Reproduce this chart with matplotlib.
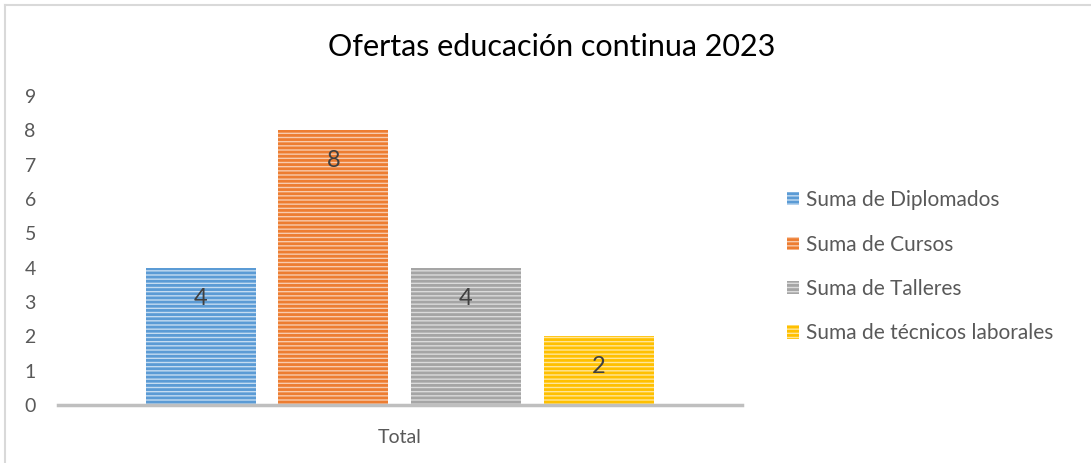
import matplotlib.pyplot as plt
from matplotlib.lines import Line2D

# Data
series = ["Suma de Diplomados", "Suma de Cursos", "Suma de Talleres", "Suma de técnicos laborales"]
values = [4, 8, 4, 2]
colors = ["#5B9BD5", "#ED7D31", "#A5A5A5", "#FFC000"]
light = ["#C5DCF1", "#F8CBAD", "#DBDBDB", "#FFE699"]
category = "Total"
title = "Ofertas educación continua 2023"

plt.rcParams['font.family'] = ['Lato', 'DejaVu Sans']
plt.rcParams['hatch.linewidth'] = 2.0

fig = plt.figure(figsize=(10.91, 4.63), dpi=100)
ax = fig.add_axes([0.0532, 0.1253, 0.6268, 0.6674])

for i, (name, v) in enumerate(zip(series, values)):
    ax.bar(i, v, width=0.83, facecolor=light[i], edgecolor=colors[i],
           hatch="----", linewidth=0, label=name, zorder=2)
    ax.annotate(str(v), xy=(i, v), xytext=(0, -22), textcoords="offset points",
                ha="center", va="center", fontsize=17, color="#404040")

ax.set_xlim(-1.075, 4.08)
ax.set_ylim(0, 9)
ax.set_yticks(range(0, 10))
ax.tick_params(axis='y', length=0, pad=16, labelsize=14, labelcolor="#595959")
ax.set_xticks([1.5])
ax.set_xticklabels([category])
ax.tick_params(axis='x', length=0, pad=17, labelsize=14, labelcolor="#595959")
for s in ["top", "right", "left"]:
    ax.spines[s].set_visible(False)
ax.spines["bottom"].set_color("#BFBFBF")
ax.spines["bottom"].set_linewidth(2.5)
ax.spines["bottom"].set_zorder(3)

fig.text(0.506, 0.898, title, ha="center", va="center", fontsize=22, color="#000000")

fig.legend(loc="center left", bbox_to_anchor=(0.704, 0.424), frameon=False,
           fontsize=15, labelspacing=1.17, handlelength=0.6, handleheight=0.6,
           handletextpad=0.3, labelcolor="#595959")

# chart border (top and left only visible)
fig.add_artist(Line2D([0.005, 0.005], [0, 0.989], transform=fig.transFigure, color="#D9D9D9", lw=1.5))
fig.add_artist(Line2D([0.005, 1.0], [0.989, 0.989], transform=fig.transFigure, color="#D9D9D9", lw=1.5))

plt.savefig("out.png", dpi=100)
